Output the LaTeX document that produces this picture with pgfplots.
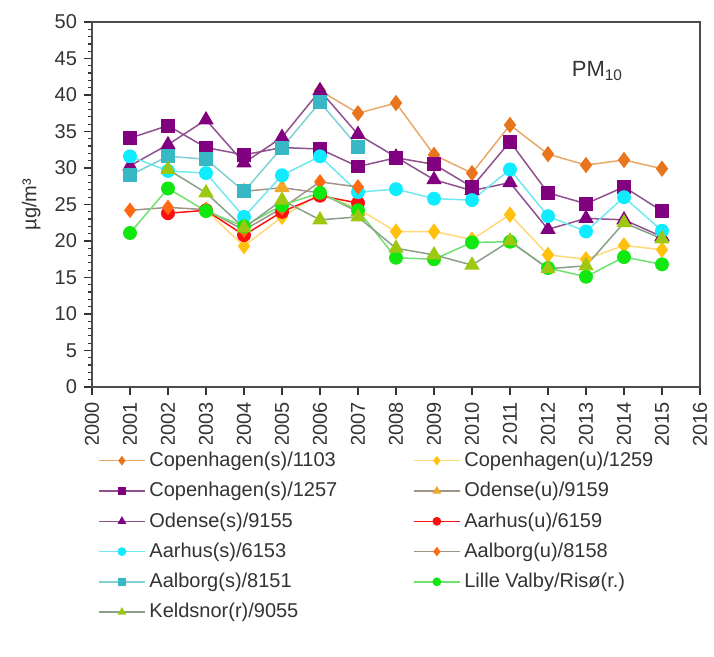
\documentclass[border=0pt]{standalone}
\usepackage{fontspec}
\setmainfont{Liberation Sans}
\usepackage{pgfplots}
\pgfplotsset{compat=1.18}
\definecolor{cOr}{HTML}{E8741E}
\definecolor{cOrL}{HTML}{E8A868}
\definecolor{cYe}{HTML}{FFC010}
\definecolor{cYeL}{HTML}{FFD878}
\definecolor{cPu}{HTML}{800080}
\definecolor{cPuL}{HTML}{905090}
\definecolor{cGo}{HTML}{F0A828}
\definecolor{cGr}{HTML}{A09488}
\definecolor{cRe}{HTML}{FF1010}
\definecolor{cCy}{HTML}{10ECFF}
\definecolor{cCyL}{HTML}{70E8F0}
\definecolor{cOr2}{HTML}{FF6A10}
\definecolor{cTe}{HTML}{38B8C4}
\definecolor{cTeL}{HTML}{80D0D4}
\definecolor{cGn}{HTML}{10E810}
\definecolor{cGnL}{HTML}{70E070}
\definecolor{cOl}{HTML}{9CC810}
\definecolor{cOlL}{HTML}{8AA088}
\begin{document}
\begin{tikzpicture}
\begin{axis}[
  name=ax,
  scale only axis,
  width=304pt, height=182.5pt,
  xmin=2000, xmax=2016, ymin=0, ymax=50,
  xtick={2000,2001,...,2016},
  ytick={0,5,...,50},
  minor y tick num=4,
  tick align=outside,
  xtick pos=bottom, ytick pos=left,
  major tick length=4pt, minor tick length=2pt,
  axis line style={draw=black!70, line width=0.8pt},
  every tick/.style={black!80, line width=0.6pt},
  /pgf/number format/1000 sep={},
  /pgf/number format/assume math mode=true,
  tick label style={font=\fontsize{10}{12}\selectfont, text=black!80},
  xticklabel style={rotate=90, anchor=east},
  ylabel={µg/m³},
  ylabel style={at={(axis description cs:-0.1,0.5)}, anchor=center, font=\fontsize{10}{12}\selectfont, text=black!80},
  legend columns=2,
  legend cell align=left,
  legend style={draw=none, at={(axis description cs:0.0,-0.155)}, anchor=north west,
    font=\fontsize{10}{12}\selectfont, text=black!80, row sep=2.4pt,
    /tikz/every even column/.append style={column sep=36pt}},
  legend image code/.code={\draw[mark size=1.8pt, mark repeat=2, mark phase=2] plot coordinates {(0cm,0cm)(0.4cm,0cm)(0.8cm,0cm)};},
  every axis plot/.append style={line width=0.75pt},
  clip=false,
]
% Copenhagen(s)/1103
\addplot[color=cOrL, mark=diamond*, mark size=3.5pt, mark options={draw=cOr, fill=cOr}] coordinates {
(2006,40.6)(2007,37.5)(2008,38.9)(2009,31.8)(2010,29.3)(2011,35.9)(2012,31.9)(2013,30.4)(2014,31.1)(2015,29.9)};
\addlegendentry{Copenhagen(s)/1103}
% Copenhagen(u)/1259
\addplot[color=cYeL, mark=diamond*, mark size=3.5pt, mark options={draw=cYe, fill=cYe}] coordinates {
(2003,24.2)(2004,19.3)(2005,23.3)(2006,26.5)(2007,24.4)(2008,21.3)(2009,21.3)(2010,20.2)(2011,23.6)(2012,18.1)(2013,17.5)(2014,19.4)(2015,18.8)};
\addlegendentry{Copenhagen(u)/1259}
% Copenhagen(s)/1257
\addplot[color=cPuL, mark=square*, mark size=3.1pt, mark options={draw=cPu, fill=cPu}] coordinates {
(2001,34.1)(2002,35.8)(2003,32.8)(2004,31.8)(2005,32.8)(2006,32.6)(2007,30.2)(2008,31.4)(2009,30.5)(2010,27.4)(2011,33.6)(2012,26.6)(2013,25.1)(2014,27.4)(2015,24.1)};
\addlegendentry{Copenhagen(s)/1257}
% Odense(u)/9159
\addplot[color=cGr, mark=triangle*, mark size=3.7pt, mark options={draw=cGo, fill=cGo}] coordinates {
(2004,26.8)(2005,27.3)(2006,26.6)(2007,24.0)};
\addlegendentry{Odense(u)/9159}
% Odense(s)/9155
\addplot[color=cPuL, mark=triangle*, mark size=3.7pt, mark options={draw=cPu, fill=cPu}] coordinates {
(2001,30.3)(2002,33.2)(2003,36.6)(2004,30.7)(2005,34.2)(2006,40.6)(2007,34.6)(2008,31.5)(2009,28.4)(2010,26.9)(2011,28.0)(2012,21.6)(2013,23.1)(2014,22.9)(2015,20.6)};
\addlegendentry{Odense(s)/9155}
% Aarhus(u)/6159
\addplot[color=cRe, mark=*, mark size=3.1pt, mark options={draw=cRe, fill=cRe}] coordinates {
(2002,23.8)(2003,24.2)(2004,20.8)(2005,24.0)(2006,26.2)(2007,25.2)};
\addlegendentry{Aarhus(u)/6159}
% Aarhus(s)/6153
\addplot[color=cCyL, mark=*, mark size=3.1pt, mark options={draw=cCy, fill=cCy}] coordinates {
(2001,31.6)(2002,29.6)(2003,29.3)(2004,23.3)(2005,29.0)(2006,31.6)(2007,26.7)(2008,27.1)(2009,25.8)(2010,25.6)(2011,29.8)(2012,23.4)(2013,21.3)(2014,26.0)(2015,21.4)};
\addlegendentry{Aarhus(s)/6153}
% Aalborg(u)/8158
\addplot[color=cGr, mark=diamond*, mark size=3.3pt, mark options={draw=cOr2, fill=cOr2}] coordinates {
(2001,24.2)(2002,24.6)(2003,24.3)(2004,21.5)(2005,24.5)(2006,28.1)(2007,27.4)};
\addlegendentry{Aalborg(u)/8158}
% Aalborg(s)/8151
\addplot[color=cTeL, mark=square*, mark size=3.1pt, mark options={draw=cTe, fill=cTe}] coordinates {
(2001,29.0)(2002,31.6)(2003,31.2)(2004,26.8)(2005,32.8)(2006,39.0)(2007,32.9)};
\addlegendentry{Aalborg(s)/8151}
% Lille Valby/Risø(r.)
\addplot[color=cGnL, mark=*, mark size=3.1pt, mark options={draw=cGn, fill=cGn}] coordinates {
(2001,21.1)(2002,27.2)(2003,24.1)(2004,22.0)(2005,24.9)(2006,26.6)(2007,24.2)(2008,17.7)(2009,17.5)(2010,19.8)(2011,19.9)(2012,16.3)(2013,15.1)(2014,17.8)(2015,16.8)};
\addlegendentry{Lille Valby/Risø(r.)}
% Keldsnor(r)/9055
\addplot[color=cOlL, mark=triangle*, mark size=3.7pt, mark options={draw=cOl, fill=cOl}] coordinates {
(2002,29.8)(2003,26.6)(2004,21.8)(2005,25.6)(2006,22.9)(2007,23.3)(2008,19.0)(2009,18.1)(2010,16.7)(2011,20.0)(2012,16.2)(2013,16.6)(2014,22.5)(2015,20.3)};
\addlegendentry{Keldsnor(r)/9055}
\node[font=\fontsize{11}{13}\selectfont, text=black!80] at (axis cs:2013.3,43.3) {PM\textsubscript{10}};
\end{axis}
\path ([xshift=-46pt,yshift=-135pt]ax.south west) rectangle ([xshift=7pt,yshift=11pt]ax.north east);
\end{tikzpicture}
\end{document}
